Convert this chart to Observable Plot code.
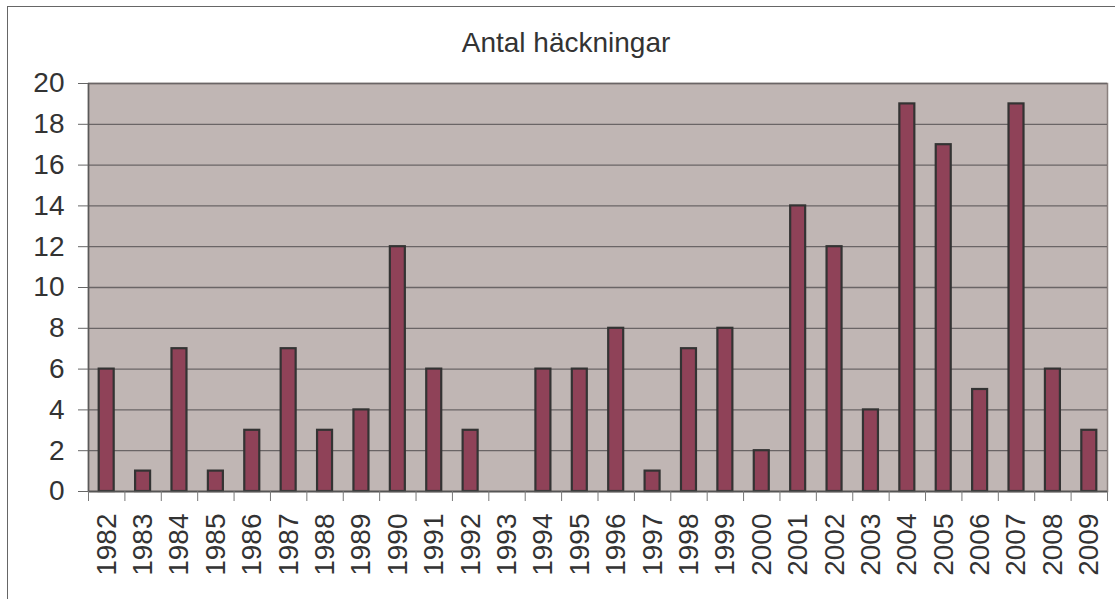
<!DOCTYPE html>
<html>
<head>
<meta charset="utf-8">
<script src="https://cdn.jsdelivr.net/npm/d3@7"></script>
<script src="https://cdn.jsdelivr.net/npm/@observablehq/plot@0.6"></script>
<style>
  html, body { margin: 0; padding: 0; background: #fff; overflow: hidden; }
  #wrap { position: relative; width: 1115px; height: 599px; overflow: hidden; }
  #frame { position: absolute; left: 7px; top: 6px; width: 1200px; height: 700px;
           border: 1.5px solid #666; box-sizing: border-box; pointer-events: none; z-index: 2; }
  #title { position: absolute; left: 366px; width: 400px; top: 29px; text-align: center;
           font-family: "Liberation Sans", Arial, sans-serif; font-size: 28px; line-height: 28px;
           color: #333; z-index: 3; }
  #chart { position: absolute; left: 0; top: 0; }
</style>
</head>
<body>
<div id="wrap">
  <div id="frame"></div>
  <div id="title">Antal häckningar</div>
  <div id="chart"></div>
</div>
<script>
const years = [1982,1983,1984,1985,1986,1987,1988,1989,1990,1991,1992,1993,1994,1995,1996,1997,1998,1999,2000,2001,2002,2003,2004,2005,2006,2007,2008,2009];
const counts = [6,1,7,1,3,7,3,4,12,6,3,0,6,6,8,1,7,8,2,14,12,4,19,17,5,19,6,3];
const yTicks = [0,2,4,6,8,10,12,14,16,18,20];

const data = years.map((year, i) => ({year, count: counts[i]}));
const boundaries = years.map(y => y - 0.5).concat([years[years.length - 1] + 0.5]);

const chart = Plot.plot({
  width: 1115,
  height: 599,
  marginLeft: 88,
  marginRight: 8,
  marginTop: 83,
  marginBottom: 108,
  style: { background: "transparent", fontFamily: "'Liberation Sans', Arial, sans-serif", fontSize: "28px", color: "#333" },
  x: { domain: [years[0] - 0.5, years[years.length - 1] + 0.5] },
  y: { domain: [0, 20] },
  marks: [
    Plot.frame({ fill: "#c0b6b4", stroke: "#8a807e", strokeWidth: 1.5 }),
    Plot.gridY(yTicks, { stroke: "#6a6566", strokeOpacity: 1, strokeWidth: 1.3 }),
    Plot.rectY(data, {
      filter: d => d.count > 0,
      x1: d => d.year - 0.5, x2: d => d.year + 0.5, y: "count",
      insetLeft: 10.7, insetRight: 10.7,
      fill: "#8f4258", stroke: "#333", strokeWidth: 2.2
    }),
    Plot.ruleY([0], { stroke: "#555", strokeWidth: 1.5 }),
    Plot.ruleX([years[0] - 0.5], { stroke: "#5a5a5a", strokeWidth: 1.5 }),
    Plot.axisY({ ticks: yTicks, tickSize: 10, tickPadding: 14, stroke: "#666", label: null, tickFormat: d => String(d), fill: "#333" }),
    Plot.axisX({ ticks: boundaries, tickSize: 10, tickFormat: () => "", stroke: "#777", label: null }),
    Plot.axisX({ ticks: years, tickSize: 0, tickPadding: 22, tickRotate: -90, tickFormat: d => String(d), label: null, fill: "#333" })
  ]
});
document.getElementById("chart").appendChild(chart);
</script>
</body>
</html>
